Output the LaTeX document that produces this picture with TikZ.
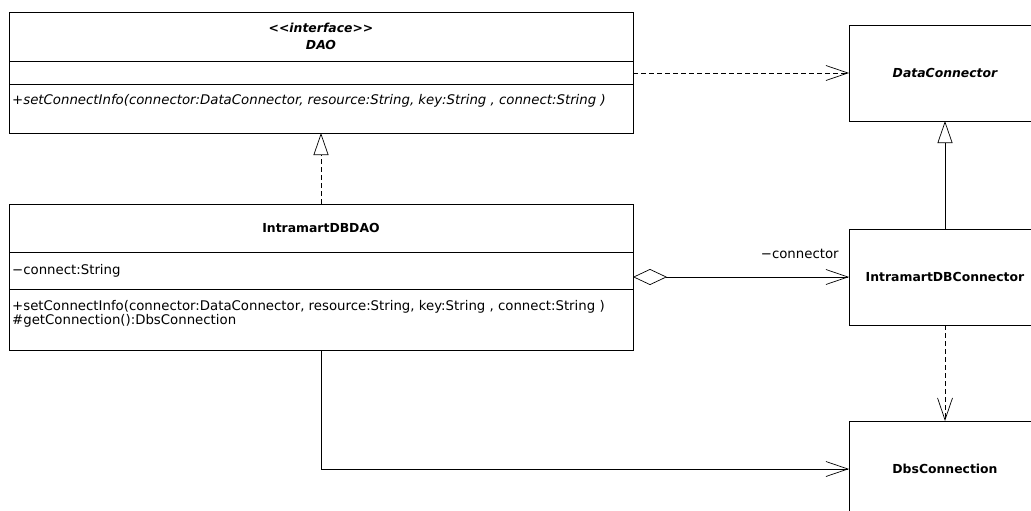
\documentclass[tikz,border=0pt]{standalone}
\usepackage{fontspec}
\setmainfont{DejaVu Sans}
\usetikzlibrary{arrows.meta,positioning,calc}
\tikzset{
  umlpart/.style={draw, line width=0.9pt, inner sep=0pt, outer sep=0pt, minimum width=624pt},
  umlclass/.style={draw, line width=0.9pt, inner sep=0pt, outer sep=0pt, anchor=north west, minimum width=192pt, minimum height=96pt, font=\fontsize{12.4}{15}\selectfont\bfseries},
  umltitle/.style={align=center, font=\fontsize{12.4}{21}\selectfont\bfseries},
  umltext/.style={inner sep=0pt, align=left, font=\fontsize{13.3}{14.5}\selectfont},
  umlrealize/.style={-{Triangle[open,length=22pt,width=15pt]}, dash pattern=on 5pt off 3pt, line width=0.7pt},
  umlinherit/.style={-{Triangle[open,length=22pt,width=15pt]}, line width=0.7pt},
  umldep/.style={-{Straight Barb[length=22pt,width=15pt]}, dash pattern=on 5pt off 3pt, line width=0.7pt},
  umlassoc/.style={-{Straight Barb[length=22pt,width=15pt]}, line width=0.7pt},
  umlaggr/.style={{Diamond[open,length=34pt,width=16pt]}-{Straight Barb[length=22pt,width=15pt]}, line width=0.7pt}
}
\begin{document}
\begin{tikzpicture}[x=1pt,y=-1pt]
\path[use as bounding box, clip] (0,0) rectangle (1031,511);
% DAO interface
\node[umlpart, umltitle, anchor=north west, minimum height=49pt, font=\fontsize{12.4}{21}\selectfont\bfseries\itshape] (daohead) at (9,12) {{<}{<}interface{>}{>}\\[-4pt]DAO};
\node[umlpart, minimum height=23pt, below=0pt of daohead] (daoattr) {};
\node[umlpart, minimum height=49pt, below=0pt of daoattr] (daoops) {};
\node[umltext, anchor=west, font=\fontsize{13.3}{14.5}\selectfont\itshape] (daoopstext) at ($(daoops.north west)+(3,17)$) {+setConnectInfo(connector:DataConnector, resource:String, key:String , connect:String )};
% IntramartDBDAO
\node[umlpart, umltitle, anchor=north west, minimum height=48pt] (implhead) at (9,204) {IntramartDBDAO};
\node[umlpart, minimum height=37pt, below=0pt of implhead] (implattr) {};
\node[umlpart, minimum height=61pt, below=0pt of implattr] (implops) {};
\node[umltext, anchor=west] (implattrtext) at ($(implattr.west)+(3,0)$) {−connect:String};
\node[umltext, anchor=north west] (implopstext) at ($(implops.north west)+(3,11)$) {+setConnectInfo(connector:DataConnector, resource:String, key:String , connect:String )\\\#getConnection():DbsConnection};
% right column
\node[umlclass, font=\fontsize{12.4}{15}\selectfont\bfseries\itshape] (dataconn) at (849,25) {DataConnector};
\node[umlclass] (dbconn) at (849,229) {IntramartDBConnector};
\node[umlclass] (dbsconn) at (849,421) {DbsConnection};
% relations
\draw[umlrealize] (implhead.north) -- (daoops.south);
\draw[umldep] (daoattr.east |- dataconn.west) -- (dataconn.west);
\draw[umlinherit] (dbconn.north) -- (dataconn.south);
\draw[umlaggr] (implattr.east |- dbconn.west) -- node[umltext, anchor=south east, pos=1, xshift=-10pt, yshift=18pt] (connlabel) {−connector} (dbconn.west);
\draw[umldep] (dbconn.south) -- (dbsconn.north);
\draw[umlassoc] (implops.south) |- (dbsconn.west);
\end{tikzpicture}
\end{document}
